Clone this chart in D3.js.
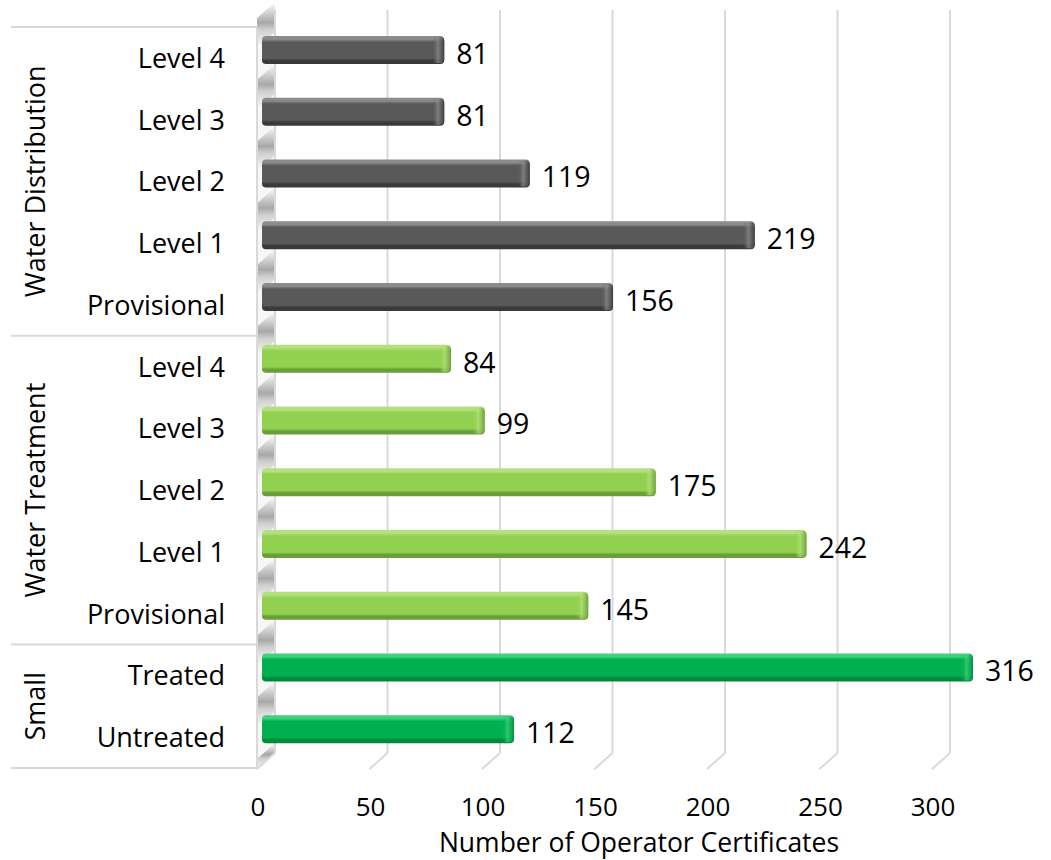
<!DOCTYPE html>
<html><head><meta charset="utf-8">
<script src="https://cdn.jsdelivr.net/npm/d3@7"></script>
<style>body{margin:0;background:#fff} svg{display:block}</style>
</head><body>
<svg id="chart" width="1051" height="860"></svg>
<script>
// Operator certificates by type and level
const groups = ["Water Distribution", "Water Treatment", "Small"];
const categories = ["Level 4", "Level 3", "Level 2", "Level 1", "Provisional",
                    "Level 4", "Level 3", "Level 2", "Level 1", "Provisional",
                    "Treated", "Untreated"];
const categoryGroups = [0, 0, 0, 0, 0, 1, 1, 1, 1, 1, 2, 2];
const values = [81, 81, 119, 219, 156, 84, 99, 175, 242, 145, 316, 112];
const xTicks = [0, 50, 100, 150, 200, 250, 300];
const axisTitle = "Number of Operator Certificates";

// colour per group: [light edge, body, dark edge]
const groupColors = [
  ["#8c8c8c", "#595959", "#3a3a3a"],
  ["#b5e07f", "#92d050", "#6a9e36"],
  ["#3fd17e", "#00b050", "#008a3c"]
];

const svg = d3.select("#chart");
const FONT = "'Open Sans', 'Noto Sans', sans-serif";

// 3D box geometry: front plane, back wall offset
const depth = { dx: 18, dy: -16 };
const frontTop = 27, frontBottom = 769;
const x = d3.scaleLinear().domain([0, 300]).range([257, 932]);
const y = d3.scaleBand().domain(d3.range(categories.length)).range([frontTop, 768]);
const barShift = { dx: 5, dy: -8 };
const barH = 28;

const defs = svg.append("defs");

// bar gradients
groupColors.forEach((c, i) => {
  const g = defs.append("linearGradient").attr("id", "bar" + i)
    .attr("x1", 0).attr("y1", 0).attr("x2", 0).attr("y2", 1);
  g.append("stop").attr("offset", "0%").attr("stop-color", c[0]);
  g.append("stop").attr("offset", "12%").attr("stop-color", c[0]);
  g.append("stop").attr("offset", "22%").attr("stop-color", c[1]);
  g.append("stop").attr("offset", "80%").attr("stop-color", c[1]);
  g.append("stop").attr("offset", "88%").attr("stop-color", c[2]);
  g.append("stop").attr("offset", "100%").attr("stop-color", c[2]);
  const e = defs.append("linearGradient").attr("id", "cap" + i)
    .attr("x1", 0).attr("y1", 0).attr("x2", 1).attr("y2", 0);
  e.append("stop").attr("offset", "0%").attr("stop-color", c[1]).attr("stop-opacity", 0);
  e.append("stop").attr("offset", "45%").attr("stop-color", c[0]).attr("stop-opacity", 0.7);
  e.append("stop").attr("offset", "100%").attr("stop-color", c[2]).attr("stop-opacity", 0.9);
});

// side wall shading
const wallGrad = defs.append("linearGradient").attr("id", "wallShade")
  .attr("x1", 0).attr("y1", 0).attr("x2", 0).attr("y2", 1);
wallGrad.append("stop").attr("offset", "0%").attr("stop-color", "#ffffff");
wallGrad.append("stop").attr("offset", "45%").attr("stop-color", "#9a9a9a");
wallGrad.append("stop").attr("offset", "60%").attr("stop-color", "#c8c8c8");
wallGrad.append("stop").attr("offset", "100%").attr("stop-color", "#ffffff");

const gridColor = "#d9d9d9";
const xw = x(0);

// side wall (left)
const wall = svg.append("g");
wall.append("path")
  .attr("d", `M${xw},${frontTop} L${xw + depth.dx},${frontTop + depth.dy} L${xw + depth.dx},${frontBottom + depth.dy} L${xw},${frontBottom} Z`)
  .attr("fill", "#f7f7f7");
// shading strips on the wall at each category boundary
d3.range(categories.length + 1).forEach(i => {
  const yb = frontTop + i * y.step() - 2;
  const h = 30;
  const top = yb - h / 2;
  if (top < frontTop + depth.dy - 4) return;
  wall.append("path")
    .attr("d", `M${xw},${top + 8} L${xw + depth.dx},${top - 8} L${xw + depth.dx},${Math.min(top + h - 8, frontBottom + depth.dy)} L${xw},${Math.min(top + h + 8, frontBottom)} Z`)
    .attr("fill", "url(#wallShade)").attr("opacity", 0.85);
});
wall.append("line").attr("x1", xw).attr("x2", xw).attr("y1", frontTop).attr("y2", frontBottom)
  .attr("stroke", gridColor).attr("stroke-width", 2);

// back wall gridlines and floor lines
const grid = svg.append("g");
xTicks.forEach(t => {
  const xb = x(t) + depth.dx;
  grid.append("line").attr("x1", xb).attr("x2", xb)
    .attr("y1", 10).attr("y2", frontBottom + depth.dy)
    .attr("stroke", gridColor).attr("stroke-width", 2);
  grid.append("line").attr("x1", xb).attr("y1", frontBottom + depth.dy)
    .attr("x2", x(t)).attr("y2", frontBottom)
    .attr("stroke", gridColor).attr("stroke-width", 2);
});

// category axis frame: horizontal separators
const sepYs = [0, 5, 10, 12].map(i => frontTop + i * y.step());
svg.append("g").selectAll("line").data(sepYs).join("line")
  .attr("x1", 11).attr("x2", xw).attr("y1", d => d).attr("y2", d => d)
  .attr("stroke", gridColor).attr("stroke-width", 2);

// bars
const bars = svg.append("g");
values.forEach((v, i) => {
  const gi = categoryGroups[i];
  const x0 = x(0) + barShift.dx, x1 = x(v) + barShift.dx;
  const cy = y(i) + y.bandwidth() / 2 + barShift.dy;
  const g = bars.append("g");
  g.append("rect").attr("x", x0).attr("y", cy - barH / 2)
    .attr("width", x1 - x0).attr("height", barH).attr("rx", 4)
    .attr("fill", `url(#bar${gi})`);
  g.append("rect").attr("x", x1 - 12).attr("y", cy - barH / 2 + 1)
    .attr("width", 12).attr("height", barH - 2).attr("rx", 4)
    .attr("fill", `url(#cap${gi})`);
  g.append("text").attr("x", x1 + 12).attr("y", cy + 14)
    .attr("font-family", FONT).attr("font-size", 28.5).attr("fill", "#000")
    .text(v);
});

// category labels
svg.append("g").selectAll("text").data(categories).join("text")
  .attr("x", 225).attr("y", (d, i) => y(i) + y.bandwidth() / 2 + 10)
  .attr("text-anchor", "end")
  .attr("font-family", FONT).attr("font-size", 27).attr("fill", "#000")
  .text(d => d);

// group labels (rotated)
const groupSpans = [[0, 5], [5, 10], [10, 12]];
svg.append("g").selectAll("text").data(groups).join("text")
  .attr("transform", (d, i) => {
    const cy = frontTop + (groupSpans[i][0] + groupSpans[i][1]) / 2 * y.step();
    return `translate(45,${cy}) rotate(-90)`;
  })
  .attr("text-anchor", "middle")
  .attr("font-family", FONT).attr("font-size", 27).attr("fill", "#000")
  .text(d => d);

// value axis tick labels
svg.append("g").selectAll("text").data(xTicks).join("text")
  .attr("x", d => x(d) + 1).attr("y", 816)
  .attr("text-anchor", "middle")
  .attr("font-family", FONT).attr("font-size", 26).attr("fill", "#000")
  .text(d => d);

// axis title
svg.append("text").attr("x", 639).attr("y", 852)
  .attr("text-anchor", "middle")
  .attr("font-family", FONT).attr("font-size", 26.5).attr("fill", "#000")
  .text(axisTitle);
</script>
</body></html>
